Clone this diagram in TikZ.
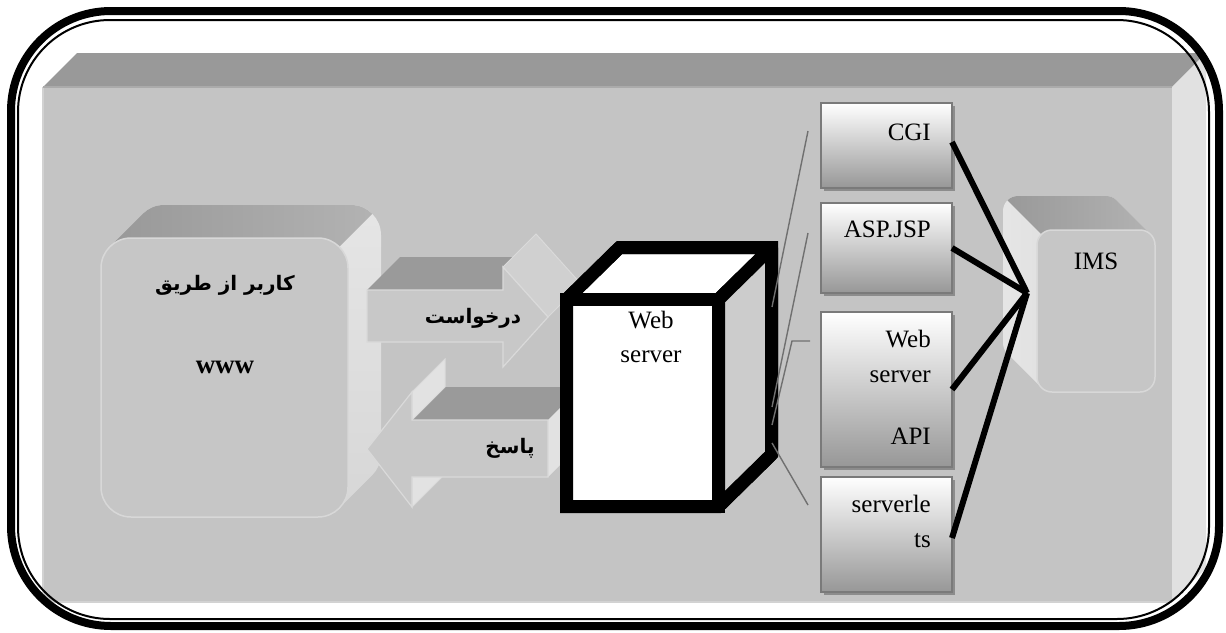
\documentclass[tikz,border=0pt]{standalone}
\usepackage{fontspec}
\setmainfont{Liberation Serif}
\newfontfamily\fa[Script=Arabic]{DejaVu Sans}
\TeXXeTstate=1
\usetikzlibrary{calc,shadows}

\definecolor{plateFront}{HTML}{C4C4C4}
\definecolor{plateTop}{HTML}{999999}
\definecolor{plateSide}{HTML}{E1E1E1}
\definecolor{plateEdge}{HTML}{D2D2D2}
\definecolor{solidFront}{HTML}{C6C6C6}
\definecolor{solidEdge}{HTML}{D8D8D8}
\definecolor{solidTopA}{HTML}{979797}
\definecolor{solidTopB}{HTML}{B4B4B4}
\definecolor{solidSideA}{HTML}{D6D6D6}
\definecolor{solidSideB}{HTML}{E6E6E6}
\definecolor{arrFront}{HTML}{C8C8C8}
\definecolor{arrEdge}{HTML}{DADADA}
\definecolor{arrTop}{HTML}{9A9A9A}
\definecolor{arrHead}{HTML}{D0D0D0}
\definecolor{arrSide}{HTML}{E2E2E2}
\definecolor{cubeSide}{HTML}{CCCCCC}
\definecolor{boxEdge}{HTML}{7A7A7A}
\definecolor{boxBottom}{HTML}{979797}
\definecolor{boxShadow}{HTML}{8C8C8C}
\definecolor{linkGray}{HTML}{707070}

\newcommand\latinfont{\fontsize{25}{30}\selectfont}
\newcommand\persianfont{\fa\bfseries\fontsize{20}{24}\selectfont}

\begin{document}
\begin{tikzpicture}[x=1pt,y=-1pt,
  solidfront/.style={rectangle,inner sep=0pt,outer sep=0pt,fill=solidFront,draw=solidEdge,line width=1.5pt},
  optbox/.style={rectangle,inner sep=0pt,outer sep=0pt,draw=boxEdge,line width=1.5pt,
    top color=white,bottom color=boxBottom,minimum width=131pt,
    drop shadow={shadow xshift=3pt,shadow yshift=-3pt,fill=boxShadow,opacity=1}},
  lbl/.style={inner sep=0pt,font=\latinfont},
  plbl/.style={inner sep=0pt,font=\persianfont},
  arrowface/.style={fill=arrFront,draw=arrEdge,line width=1.2pt,line join=miter},
  thinlink/.style={draw=linkGray,line width=1.4pt},
  thicklink/.style={draw=black,line width=6pt},
  cubeline/.style={draw=black,line width=13pt,line join=bevel}]

\useasboundingbox (0,0) rectangle (1226,632);

% ---- raised background plate ----
\fill[plateTop] (43,87) -- (77,53) -- (1206,53) -- (1172,87) -- cycle;
\fill[plateSide] (1172,87) -- (1206,53) -- (1206,568) -- (1172,602) -- cycle;
\fill[plateFront] (43,87) rectangle (1172,602);
\draw[plateEdge,line width=1.5pt] (43,602) -- (43,87);
\draw[plateEdge,line width=1.5pt] (43,602) -- (1172,602);
\draw[color=black!33,line width=1.5pt] (43,87) -- (1172,87);

% ---- user block (extruded up and to the right) ----
\begin{scope}
  \clip[rounded corners=30pt] \foreach \t in {0,1,...,33} {(101+\t,238-\t) rectangle ++(247,279)};
  \shade[top color=solidSideB,bottom color=solidSideA] (95,195) rectangle (390,525);
  \clip (0,0) -- (586,0) -- (0,586) -- cycle;
  \shade[left color=solidTopA,right color=solidTopB] (95,195) rectangle (390,525);
\end{scope}
\node[solidfront,rounded corners=30pt,minimum width=247pt,minimum height=279pt] (user) at (224.5,377.5) {};
\node[plbl,anchor=base] (userA) at (225,290) {\beginR کاربر از طریق\endR};
\node[lbl,anchor=base,font=\fontsize{27}{30}\selectfont\bfseries] (userB) at (225,373) {www};

% ---- request arrow ----
\fill[arrTop] (503,290) -- (503,267) -- (536,234) -- (536,257) -- cycle;
\fill[arrTop] (367,290) -- (400,257) -- (536,257) -- (503,290) -- cycle;
\filldraw[fill=arrHead,draw=arrEdge,line width=1pt] (503,267) -- (536,234) -- (581,284) -- (548,317) -- cycle;
\path[arrowface] (367,290) -- (503,290) -- (503,267) -- (548,317) -- (503,367) -- (503,342) -- (367,342) -- cycle;
\node[plbl,anchor=base] (req) at (473,323) {\beginR درخواست\endR};

% ---- response arrow ----
\fill[arrHead] (367,449) -- (412,392) -- (445,359) -- (400,416) -- cycle;
\fill[arrTop] (412,420) -- (445,387) -- (581,387) -- (548,420) -- cycle;
\fill[arrSide] (548,420) -- (581,387) -- (581,444) -- (548,477) -- cycle;
\filldraw[fill=arrSide,draw=arrEdge,line width=1pt] (412,392) -- (445,359) -- (445,387) -- (412,420) -- cycle;
\filldraw[fill=arrSide,draw=arrEdge,line width=1pt] (412,477) -- (412,507) -- (445,474) -- (445,444) -- cycle;
\path[arrowface] (548,420) -- (412,420) -- (412,392) -- (367,449) -- (412,507) -- (412,477) -- (548,477) -- cycle;
\node[plbl,anchor=base] (resp) at (510,453) {\beginR پاسخ\endR};

% ---- web server cube ----
\coordinate (fNW) at (566.5,299.5);
\coordinate (fNE) at (718.5,299.5);
\coordinate (fSE) at (718.5,506.5);
\coordinate (fSW) at (566.5,506.5);
\coordinate (dep) at (53,-52);
\path[cubeline,fill=white] (fNW) -- ($(fNW)+(dep)$) -- ($(fNE)+(dep)$) -- (fNE) -- cycle;
\path[cubeline,fill=cubeSide] (fNE) -- ($(fNE)+(dep)$) -- ($(fSE)+(dep)$) -- (fSE) -- cycle;
\node[rectangle,inner sep=0pt,outer sep=0pt,cubeline,line join=miter,fill=white,minimum width=152pt,minimum height=207pt] (ws) at (642.5,403) {};
\draw[black,line width=13pt,line join=miter] (fNW) -- ($(fNW)+(dep)$) -- ($(fNE)+(dep)$) -- ($(fSE)+(dep)$) -- (fSE) -- (fSW) -- cycle;
\node[lbl,anchor=base] (wsA) at (651,328) {Web};
\node[lbl,anchor=base] (wsB) at (651,362) {server};

% ---- thin links from the server to the handlers ----
\coordinate (s1) at (772,307); \coordinate (e1) at (808,131);
\coordinate (s2) at (772,407); \coordinate (e2) at (808,233);
\coordinate (s3) at (772,425); \coordinate (k3) at (792,341); \coordinate (e3) at (810,341);
\coordinate (s4) at (772,443); \coordinate (e4) at (808,505);
\draw[thinlink] (s1) -- (e1);
\draw[thinlink] (s2) -- (e2);
\draw[thinlink] (s3) -- (k3) -- (e3);
\draw[thinlink] (s4) -- (e4);

% ---- handler boxes ----
\node[optbox,minimum height=85pt] (cgi) at (886.5,145.5) {};
\node[optbox,minimum height=90pt] (asp) at (886.5,248) {};
\node[optbox,minimum height=155pt] (api) at (886.5,389.5) {};
\node[optbox,minimum height=115pt] (srv) at (886.5,534.5) {};
\node[lbl,anchor=base east] (cgiT) at (931,140) {CGI};
\node[lbl,anchor=base east] (aspT) at (931,237) {ASP.JSP};
\node[lbl,anchor=base east] (apiA) at (931,347) {Web};
\node[lbl,anchor=base east] (apiB) at (931,382) {server};
\node[lbl,anchor=base east] (apiC) at (931,444) {API};
\node[lbl,anchor=base east] (srvA) at (931,512) {serverle};
\node[lbl,anchor=base east] (srvB) at (931,547) {ts};

% ---- IMS block (extruded up and to the left) ----
\begin{scope}
  \clip[rounded corners=15pt] \foreach \t in {0,1,...,34} {(1037-\t,230-\t) rectangle ++(118,162)};
  \shade[left color=solidSideB,right color=solidSideA] (995,190) rectangle (1160,400);
  \clip (807,0) -- (1400,0) -- (1400,593) -- cycle;
  \shade[left color=solidTopA,right color=solidTopB] (995,190) rectangle (1160,400);
\end{scope}
\node[solidfront,rounded corners=15pt,minimum width=118pt,minimum height=162pt] (ims) at (1096,311) {};
\node[lbl,anchor=base] (imsT) at (1096,269) {IMS};

% ---- thick links from the handlers to IMS ----
\coordinate (hub) at (1027,293);
\draw[thicklink] (952,142) -- (hub);
\draw[thicklink] (asp.east) -- (hub);
\draw[thicklink] (api.east) -- (hub);
\draw[thicklink] (952,538) -- (hub);

% ---- double frame ----
\draw[line width=8pt,rounded corners=100pt] (11,11) rectangle (1219,626);
\draw[line width=2pt,rounded corners=92pt] (18,20) rectangle (1209,619);
\end{tikzpicture}
\end{document}
